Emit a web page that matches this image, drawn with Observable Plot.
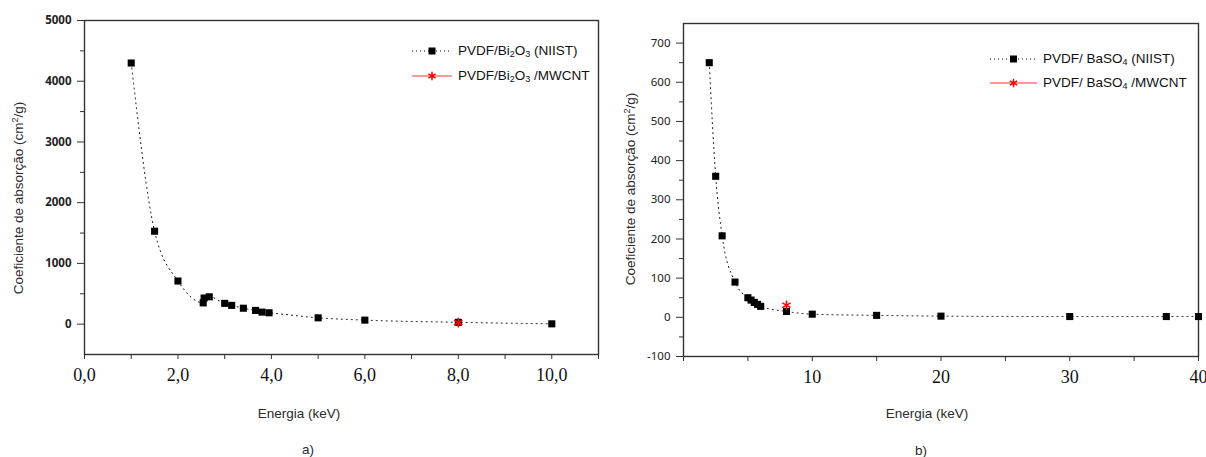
<!DOCTYPE html>
<html><head><meta charset="utf-8">
<script src="https://cdn.jsdelivr.net/npm/d3@7"></script>
<script src="https://cdn.jsdelivr.net/npm/@observablehq/plot@0.6"></script>
<style>
body{margin:0;background:#fff;font-family:"Liberation Sans",Arial,sans-serif;}
#wrap{position:relative;width:1206px;height:457px;overflow:hidden;background:#fff;}
.abs{position:absolute;white-space:nowrap;color:#222;}
.ttl{font-size:13.5px;color:#2a2a2a;}
.rot{transform:translate(-50%,-50%) rotate(-90deg);}
.ctr{transform:translate(-50%,-50%);}
.leg{font-size:13.5px;color:#111;transform:translateY(-50%);}
.leg sub{font-size:9px;vertical-align:-2px;}
svg.plot{position:absolute;top:0;}
</style></head><body><div id="wrap"></div>
<script>
// Panel a) PVDF/Bi2O3
const energyA   = [1.0, 1.5, 2.0, 2.54, 2.56, 2.67, 3.0, 3.15, 3.4, 3.66, 3.8, 3.95, 5.0, 6.0, 8.0, 10.0];
const coefA     = [4300, 1530, 710, 350, 430, 450, 342, 309, 262, 226, 198, 187, 104, 66, 30, 5];
const energyAmw = [8.0];
const coefAmw   = [25];
const xTicksA   = [0, 2, 4, 6, 8, 10];
const xMinorA   = [1, 3, 5, 7, 9, 11];
const yTicksA   = [0, 1000, 2000, 3000, 4000, 5000];
const yMinorA   = [500, 1500, 2500, 3500, 4500];

// Panel b) PVDF/BaSO4
const energyB   = [2.0, 2.5, 3.0, 4.0, 5.0, 5.25, 5.5, 5.75, 6.0, 8.0, 10.0, 15.0, 20.0, 30.0, 37.5, 40.0];
const coefB     = [650, 360, 208, 90, 50, 44, 38, 33, 28, 15, 8, 5, 3, 2, 2, 2];
const energyBmw = [8.0];
const coefBmw   = [31];
const xTicksB   = [10, 20, 30, 40];
const xMinorB   = [0, 5, 15, 25, 35];
const yTicksB   = [-100, 0, 100, 200, 300, 400, 500, 600, 700];
const yMinorB   = [-50, 50, 150, 250, 350, 450, 550, 650];

const dataA   = energyA.map((e, i) => ({e, c: coefA[i]}));
const dataAmw = energyAmw.map((e, i) => ({e, c: coefAmw[i]}));
const dataB   = energyB.map((e, i) => ({e, c: coefB[i]}));
const dataBmw = energyBmw.map((e, i) => ({e, c: coefBmw[i]}));

const fmtComma = d => d.toFixed(1).replace(".", ",");
const fmtInt = d => String(d);
const blank = () => "";

function panel({data, dataMw, xDomain, yDomain, xTicks, xMinor, xFmt, yTicks, yMinor, ml, mr, mt, mb, yWeight}) {
  return Plot.plot({
    width: 603, height: 457,
    marginLeft: ml, marginRight: mr, marginTop: mt, marginBottom: mb,
    x: {domain: xDomain},
    y: {domain: yDomain},
    style: {background: "transparent", overflow: "visible"},
    marks: [
      Plot.frame({stroke: "#333", strokeWidth: 1.4}),
      Plot.axisY({ticks: yTicks, tickFormat: fmtInt, tickSize: 7, tickPadding: 6, fontSize: 11.5, fontWeight: yWeight, fill: "#222", stroke: "#333", label: null}),
      Plot.axisY({ticks: yMinor, tickSize: 4, tickFormat: blank, stroke: "#333", label: null}),
      Plot.axisX({ticks: xTicks, tickFormat: xFmt, tickSize: 5, tickPadding: 9, fontSize: 18, fontFamily: "Liberation Serif, serif", fill: "#111", stroke: "#333", label: null}),
      Plot.axisX({ticks: xMinor, tickSize: 5, tickFormat: blank, stroke: "#333", label: null}),
      Plot.line(data, {x: "e", y: "c", curve: "monotone-x", stroke: "#000", strokeWidth: 1, strokeDasharray: "1,4"}),
      Plot.dot(data, {x: "e", y: "c", symbol: "square", r: 4, fill: "#000"}),
      Plot.dot(dataMw, {x: "e", y: "c", symbol: "asterisk", r: 4.5, stroke: "#f00", strokeWidth: 1.5})
    ]
  });
}

const wrap = document.getElementById("wrap");

const left = panel({data: dataA, dataMw: dataAmw, xDomain: [0, 11], yDomain: [-500, 5000],
  xTicks: xTicksA, xMinor: xMinorA, xFmt: fmtComma, yTicks: yTicksA, yMinor: yMinorA,
  ml: 84, mr: 5, mt: 20, mb: 103, yWeight: "bold"});
left.classList.add("plot"); left.style.left = "0px";
wrap.appendChild(left);

const right = panel({data: dataB, dataMw: dataBmw, xDomain: [0, 40], yDomain: [-100, 750],
  xTicks: xTicksB, xMinor: xMinorB, xFmt: fmtInt, yTicks: yTicksB, yMinor: yMinorB,
  ml: 80, mr: 8, mt: 23, mb: 101, yWeight: "normal"});
right.classList.add("plot"); right.style.left = "603px";
wrap.appendChild(right);

function addText(html, x, y, cls) {
  const d = document.createElement("div");
  d.className = "abs " + cls;
  d.style.left = x + "px"; d.style.top = y + "px";
  d.innerHTML = html;
  wrap.appendChild(d);
}
addText("Coeficiente de absorção (cm<sup style='font-size:9px'>2</sup>/g)", 18, 198, "ttl rot");
addText("Coeficiente de absorção (cm<sup style='font-size:9px'>2</sup>/g)", 630, 189, "ttl rot");
addText("Energia (keV)", 299, 413, "ttl ctr");
addText("Energia (keV)", 927, 413, "ttl ctr");
addText("a)", 308, 449, "ttl ctr");
addText("b)", 921, 450, "ttl ctr");

// legends
function sample(x, y, w, kind) {
  const ns = "http://www.w3.org/2000/svg";
  const s = document.createElementNS(ns, "svg");
  s.setAttribute("width", w); s.setAttribute("height", 12);
  s.style.position = "absolute"; s.style.left = x + "px"; s.style.top = (y - 6) + "px";
  const l = document.createElementNS(ns, "line");
  l.setAttribute("x1", 0); l.setAttribute("x2", w); l.setAttribute("y1", 6); l.setAttribute("y2", 6);
  if (kind === "sq") {
    l.setAttribute("stroke", "#000"); l.setAttribute("stroke-dasharray", "1,3");
    s.appendChild(l);
    const r = document.createElementNS(ns, "rect");
    r.setAttribute("x", w / 2 - 3.5); r.setAttribute("y", 2.5); r.setAttribute("width", 7); r.setAttribute("height", 7);
    s.appendChild(r);
  } else {
    l.setAttribute("stroke", "#f33"); l.setAttribute("stroke-width", 1.2);
    s.appendChild(l);
    const p = document.createElementNS(ns, "path");
    p.setAttribute("d", d3.symbol(d3.symbolAsterisk, 50)());
    p.setAttribute("transform", `translate(${w / 2},6)`);
    p.setAttribute("stroke", "#f00"); p.setAttribute("stroke-width", 1.5); p.setAttribute("fill", "none");
    s.appendChild(p);
  }
  wrap.appendChild(s);
}
sample(412, 51, 40, "sq");
sample(412, 76, 40, "st");
addText("PVDF/Bi<sub>2</sub>O<sub>3</sub> (NIIST)", 458, 51, "leg");
addText("PVDF/Bi<sub>2</sub>O<sub>3</sub> /MWCNT", 458, 76, "leg");
sample(990, 59, 47, "sq");
sample(990, 83, 47, "st");
addText("PVDF/ BaSO<sub>4</sub> (NIIST)", 1043, 59, "leg");
addText("PVDF/ BaSO<sub>4</sub> /MWCNT", 1043, 83, "leg");
</script></body></html>
